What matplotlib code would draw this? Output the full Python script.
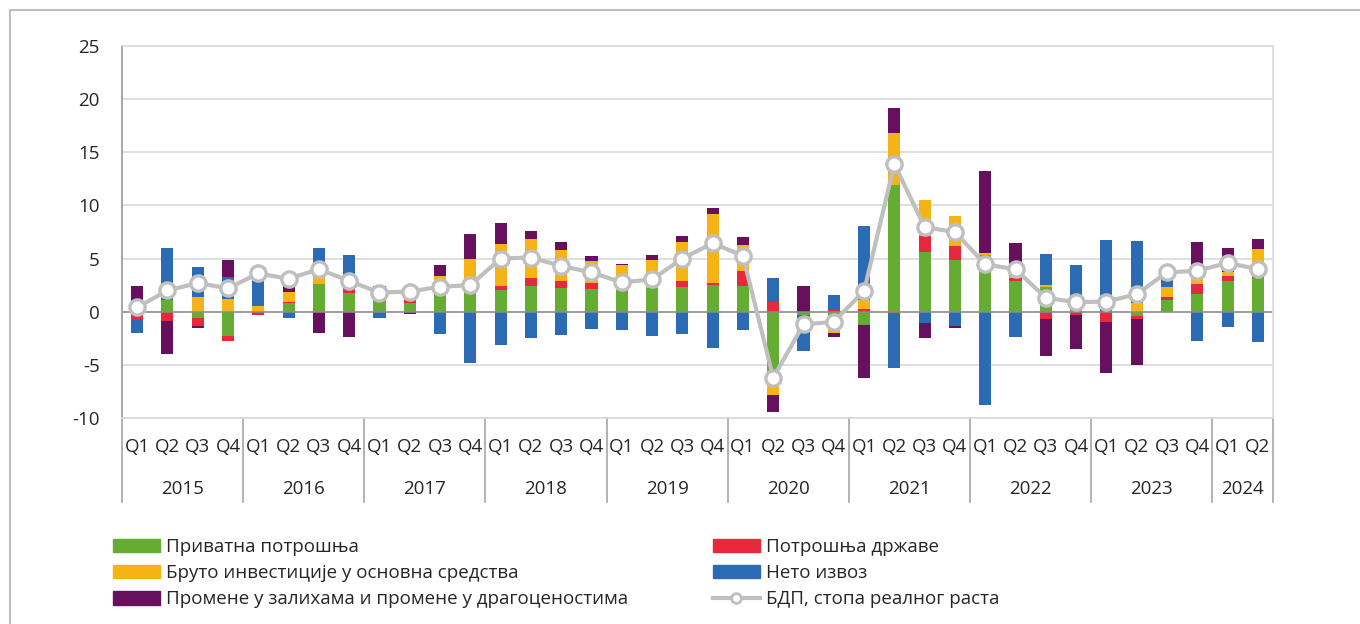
import numpy as np
import matplotlib as mpl
import matplotlib.pyplot as plt
from matplotlib.patches import Patch, Rectangle
from matplotlib.lines import Line2D
from matplotlib.transforms import blended_transform_factory

years = ['2015', '2016', '2017', '2018', '2019', '2020', '2021', '2022', '2023', '2024']
quarters = ['Q1', 'Q2', 'Q3', 'Q4']
n_quarters = [4, 4, 4, 4, 4, 4, 4, 4, 4, 2]

private = [0.0, 1.1, -0.6, -2.3,
           0.0, 0.8, 2.6, 1.8,
           1.1, 0.85, 1.6, 1.9,
           2.0, 2.4, 2.25, 2.15,
           2.0, 2.2, 2.3, 2.5,
           2.4, -6.3, -0.3, -0.8,
           -1.25, 11.95, 5.65, 4.9,
           5.3, 2.9, 2.3, 0.5,
           0.0, -0.4, 1.1, 1.65,
           2.85, 3.2]
government = [-0.8, -0.9, -0.7, -0.5,
              -0.3, 0.1, 0.0, 0.25,
              0.1, 0.25, 0.1, 0.1,
              0.4, 0.8, 0.65, 0.55,
              0.0, 0.0, 0.55, 0.2,
              1.45, 0.95, 0.0, 0.15,
              0.3, -0.2, 1.45, 1.25,
              0.0, 0.3, -0.65, -0.3,
              -0.95, -0.3, 0.25, 0.95,
              0.55, 0.1]
investment = [0.0, 0.0, 1.4, 1.2,
              0.5, 1.0, 0.7, 0.0,
              0.7, 0.8, 1.7, 3.0,
              3.95, 3.6, 2.9, 2.1,
              2.35, 2.65, 3.75, 6.5,
              2.45, -1.5, 0.0, -1.2,
              0.8, 4.85, 3.4, 2.9,
              0.2, 0.2, 0.2, 0.0,
              0.0, 0.8, 1.0, 0.55,
              0.3, 2.6]
net_export = [-1.2, 4.9, 2.8, 2.1,
              3.4, -0.6, 2.7, 3.25,
              -0.6, 0.0, -2.05, -4.8,
              -3.15, -2.5, -2.15, -1.6,
              -1.75, -2.3, -2.1, -3.4,
              -1.75, 2.2, -3.4, 1.4,
              7.0, -5.05, -1.05, -1.35,
              -8.8, -2.35, 2.95, 3.9,
              6.75, 5.85, 1.2, -2.75,
              -1.4, -2.85]
inventories = [2.4, -3.1, -0.2, 1.6,
               0.0, 1.5, -2.0, -2.4,
               0.5, -0.2, 1.0, 2.3,
               1.95, 0.8, 0.75, 0.45,
               0.1, 0.5, 0.5, 0.6,
               0.7, -1.6, 2.4, -0.4,
               -4.95, 2.4, -1.45, -0.2,
               7.7, 3.05, -3.55, -3.25,
               -4.85, -4.35, 0.0, 3.4,
               2.3, 0.95]
gdp = [0.4, 2.0, 2.7, 2.2,
       3.6, 3.1, 4.0, 2.9,
       1.8, 1.9, 2.35, 2.5,
       5.0, 5.1, 4.3, 3.7,
       2.75, 3.05, 5.0, 6.45,
       5.25, -6.2, -1.2, -0.95,
       1.95, 13.9, 7.95, 7.5,
       4.45, 4.0, 1.3, 0.9,
       0.95, 1.65, 3.7, 3.85,
       4.6, 4.0]

series = [
    ('Приватна потрошња', private, '#64AC32'),
    ('Потрошња државе', government, '#E8293D'),
    ('Бруто инвестиције у основна средства', investment, '#F5B315'),
    ('Нето извоз', net_export, '#2A6BB4'),
    ('Промене у залихама и промене у драгоценостима', inventories, '#66105E'),
]

plt.rcParams['font.family'] = ['Open Sans', 'DejaVu Sans']
plt.rcParams['font.size'] = 13.5
plt.rcParams['axes.unicode_minus'] = False
text_color = '#262626'

W, H = 1360, 624
fig = plt.figure(figsize=(W / 100, H / 100), dpi=100)
ax = fig.add_axes([122 / W, 1 - 418 / H, (1273 - 122) / W, (418 - 46) / H])

x = np.arange(len(gdp))
pos_bottom = np.zeros(len(x))
neg_bottom = np.zeros(len(x))
for label, vals, color in series:
    v = np.array(vals)
    bottom = np.where(v >= 0, pos_bottom, neg_bottom)
    ax.bar(x, v, width=0.4, bottom=bottom, color=color, zorder=2)
    pos_bottom += np.where(v >= 0, v, 0)
    neg_bottom += np.where(v < 0, v, 0)

ax.axhline(0, color='#8C8C8C', lw=1.1, zorder=2.5)
ax.plot(x, gdp, color='#BFBFBF', lw=3, marker='o', ms=11, mfc='white',
        mec='#BFBFBF', mew=2.4, zorder=3)

ax.set_xlim(-0.5, len(x) - 0.5)
ax.set_ylim(-10, 25)
ax.set_yticks(np.arange(-10, 26, 5))
ax.yaxis.grid(True, color='#D9D9D9', lw=1.2, zorder=0)
ax.set_axisbelow(True)
ax.tick_params(axis='y', length=0, pad=16, colors=text_color)
ax.tick_params(axis='x', length=0, labelbottom=False)
for s in ['top', 'right', 'bottom']:
    ax.spines[s].set_color('#D9D9D9')
    ax.spines[s].set_linewidth(1.2)
ax.spines['left'].set_color('#A6A6A6')
ax.spines['left'].set_linewidth(1.4)

# two-level category axis
trans = blended_transform_factory(ax.transData, ax.transAxes)
q_y = -(447 - 418) / 372
yr_y = -(489 - 418) / 372
sep_y = -(502 - 418) / 372
start = 0
for yr, nq in zip(years, n_quarters):
    for k in range(nq):
        ax.text(start + k, q_y, quarters[k], transform=trans, ha='center',
                va='center', color=text_color)
    ax.text(start + (nq - 1) / 2, yr_y, yr, transform=trans, ha='center',
            va='center', color=text_color)
    ax.plot([start - 0.5, start - 0.5], [0, sep_y], transform=trans,
            color='#A6A6A6', lw=1.2, clip_on=False)
    start += nq
ax.plot([start - 0.5, start - 0.5], [0, sep_y], transform=trans,
        color='#A6A6A6', lw=1.2, clip_on=False)

# legend
handles = [Patch(color=c, label=l) for l, _, c in series]
gdp_handle = Line2D([], [], color='#BFBFBF', lw=3, marker='o', ms=7,
                    mfc='white', mec='#BFBFBF', mew=2,
                    label='БДП, стопа реалног раста')
left_items = [handles[0], handles[2], handles[4]]
right_items = [handles[1], handles[3], gdp_handle]
kw = dict(frameon=False, loc='upper left', handlelength=2.5, handleheight=0.7,
          handletextpad=0.35, labelspacing=0.44, borderpad=0, borderaxespad=0,
          fontsize=13.5, labelcolor=text_color)
leg1 = fig.legend(handles=left_items, bbox_to_anchor=(113 / W, 1 - 538 / H), **kw)
leg2 = fig.legend(handles=right_items, bbox_to_anchor=(713 / W, 1 - 538 / H), **kw)

# outer chart border
fig.patches.append(Rectangle((10 / W, -0.1), 1.2, 1 - 10 / H + 0.1,
                             transform=fig.transFigure, fill=False,
                             edgecolor='#BFBFBF', lw=1.5))

fig.savefig('out.png', dpi=100)
